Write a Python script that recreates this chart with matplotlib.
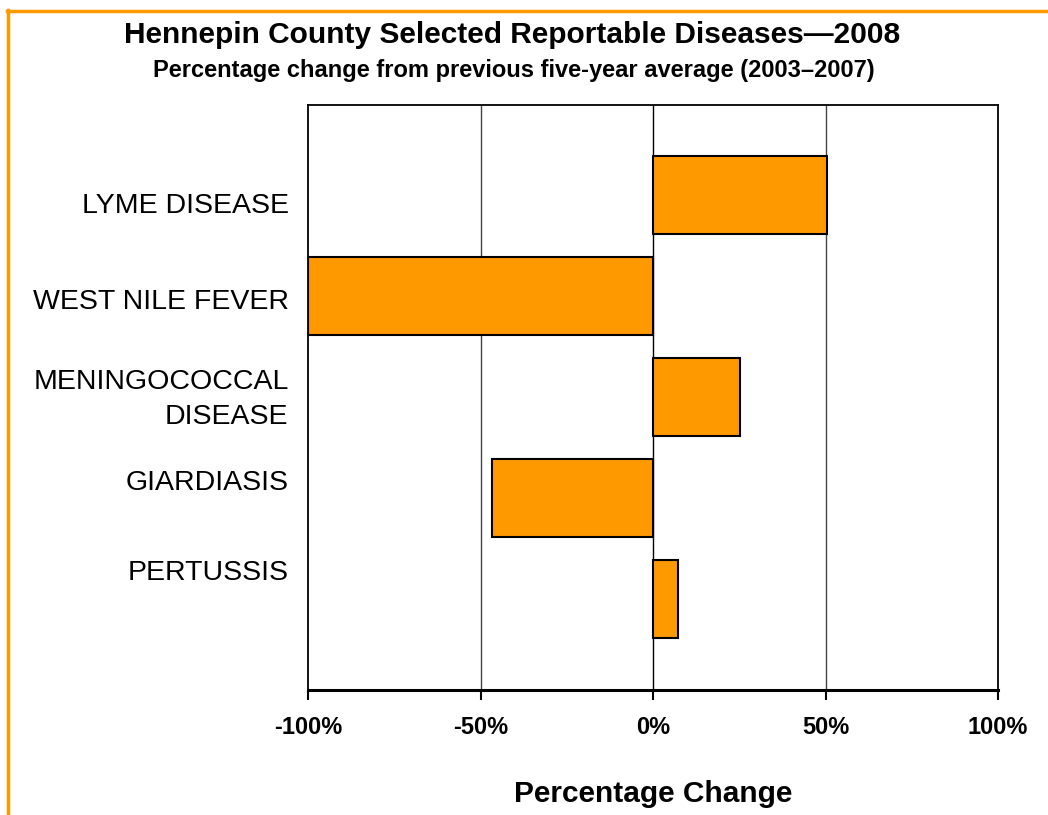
import matplotlib
matplotlib.use("Agg")
import matplotlib.pyplot as plt
from matplotlib.lines import Line2D

plt.rcParams['font.family'] = ['Liberation Sans', 'DejaVu Sans']

categories = ["LYME DISEASE", "WEST NILE FEVER", "MENINGOCOCCAL\nDISEASE", "GIARDIASIS", "PERTUSSIS"]
values = [50.5, -100, 25.2, -46.7, 7.2]
label_pos = [0.08, 1.03, 1.95, 2.82, 3.71]
xticks = [-100, -50, 0, 50, 100]
xticklabels = ["-100%", "-50%", "0%", "50%", "100%"]

orange = "#FF9900"

fig = plt.figure(figsize=(10.48, 8.15), dpi=100)
ax = fig.add_axes([308/1048, 1 - 690/815, 690/1048, 585/815])

ypos = list(range(len(categories)))
ax.barh(ypos, values, height=0.77, color=orange, edgecolor="black", linewidth=1.5, zorder=3)

ax.set_xlim(-100, 100)
ax.set_ylim(4.90, -0.89)
for x in [-50, 0, 50]:
    ax.axvline(x, color="#444444" if x != 0 else "black", linewidth=1.0, zorder=2)

ax.set_xticks(xticks)
ax.set_xticklabels(xticklabels, fontsize=17, fontweight="bold")
ax.tick_params(axis="x", direction="out", length=7, width=1.5, pad=12)
ax.set_yticks(label_pos)
ax.set_yticklabels(categories, fontsize=20.5, ha="right", multialignment="right", linespacing=1.45)
ax.tick_params(axis="y", length=0, pad=14)

for s in ["left", "top", "right"]:
    ax.spines[s].set_linewidth(1.3)
ax.spines["bottom"].set_linewidth(2.2)

ax.set_xlabel("Percentage Change", fontsize=21.5, fontweight="bold", labelpad=29)

fig.text(512/1048, 1 - 35/815, "Hennepin County Selected Reportable Diseases\u20142008",
         ha="center", va="center", fontsize=21.5, fontweight="bold")
fig.text(514/1048, 1 - 70/815, "Percentage change from previous five-year average (2003\u20132007)",
         ha="center", va="center", fontsize=17, fontweight="bold")

# orange border lines (top and left)
fig.add_artist(Line2D([7/1048, 1], [1 - 11/815, 1 - 11/815], color=orange, linewidth=2.5, transform=fig.transFigure))
fig.add_artist(Line2D([8/1048, 8/1048], [0, 1 - 10/815], color=orange, linewidth=2.5, transform=fig.transFigure))

fig.savefig("out.png", dpi=100)
